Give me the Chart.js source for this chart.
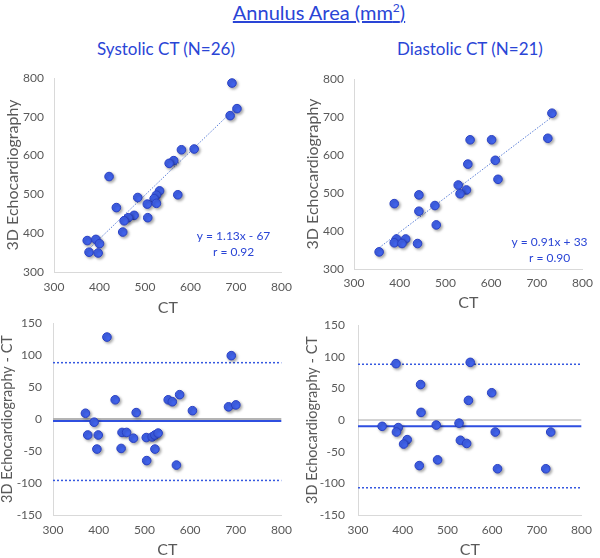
<!DOCTYPE html>
<html lang="en">
<head>
  <meta charset="UTF-8">
  <title>Annulus Area</title>
  <script src="https://cdn.jsdelivr.net/npm/chart.js"></script>
  <style>
    body { margin: 0; background: #fff; font-family: Lato, "Open Sans", sans-serif; }
    #wrap { position: relative; width: 600px; height: 558px; overflow: hidden; }
    .panel { position: absolute; width: 300px; }
    .txt { position: absolute; color: #2a45d6; white-space: nowrap; transform: translateX(-50%); }
    #title { left: 319px; top: 0px; font-size: 20px; text-decoration: underline; }
    #title sup { font-size: 12px; }
    .sub { top: 38px; font-size: 17px; }
  </style>
</head>
<body>
<div id="wrap">
  <div id="title" class="txt">Annulus Area (mm<sup>2</sup>)</div>
  <div class="txt sub" style="left:166px">Systolic CT (N=26)</div>
  <div class="txt sub" style="left:470px">Diastolic CT (N=21)</div>
  <div class="panel" style="left:0;top:60px;height:260px"><canvas id="sysScatter"></canvas></div>
  <div class="panel" style="left:300px;top:60px;height:260px"><canvas id="diaScatter"></canvas></div>
  <div class="panel" style="left:0;top:300px;height:258px"><canvas id="sysBA"></canvas></div>
  <div class="panel" style="left:300px;top:300px;height:258px"><canvas id="diaBA"></canvas></div>
</div>

<script>
  // systolic: CT vs 3D echo
  const sysCT   = [691, 702, 687, 608, 580, 563, 553, 421, 532, 525, 572, 520, 484, 505, 525, 437, 476, 463, 454, 506, 451, 373, 392, 400, 377, 397];
  const sysEcho = [787, 721, 703, 617, 615, 587, 580, 546, 509, 498, 499, 489, 492, 475, 477, 466, 446, 440, 432, 440, 403, 381, 384, 373, 351, 349];
  const sysFit  = [[373, 355], [702, 726]];

  // diastolic: CT vs 3D echo
  const diaCT   = [733, 724, 554, 601, 609, 549, 615, 528, 546, 532, 442, 388, 477, 442, 480, 393, 413, 388, 405, 439, 355];
  const diaEcho = [710, 644, 640, 640, 586, 576, 536, 521, 508, 498, 495, 472, 467, 452, 416, 379, 379, 369, 367, 367, 345];
  const diaFit  = [[355, 356], [733, 700]];

  // Bland-Altman (difference vs CT)
  const sysBaX    = [418, 690, 371, 436, 482, 390, 376, 399, 396, 449, 451, 461, 476, 504, 517, 523, 530, 523, 505, 570, 552, 561, 577, 605, 684, 700];
  const sysBaDiff = [128, 99, 9, 30, 10, -5, -25, -25, -47, -46, -21, -21, -30, -29, -28, -25, -22, -47, -65, -72, 30, 27, 38, 13, 19, 22];
  const sysLimits = { mean: -3.2, upper: 88, lower: -96 };

  const diaBaX    = [385, 551, 440, 599, 547, 441, 354, 390, 386, 475, 526, 410, 402, 529, 543, 607, 731, 437, 478, 612, 720];
  const diaBaDiff = [89, 91, 56, 43, 31, 12, -10, -12, -19, -8, -5, -31, -38, -32, -37, -19, -19, -72, -63, -77, -77];
  const diaLimits = { mean: -10, upper: 88, lower: -107 };

  const xTicks = [300, 400, 500, 600, 700, 800];

  const FONT = 'Lato, "Open Sans", sans-serif';
  const GRAY = '#595959';
  const BLUE = '#2a45d6';

  const toPts = (xs, ys) => xs.map((x, i) => ({ x: x, y: ys[i] }));

  const shadow = {
    id: 'shadow',
    beforeDatasetDraw(chart, args) {
      if (args.meta.type !== 'scatter') return;
      const ctx = chart.ctx;
      ctx.save();
      ctx.shadowColor = 'rgba(0,0,0,0.35)';
      ctx.shadowBlur = 3;
      ctx.shadowOffsetX = 1.5;
      ctx.shadowOffsetY = 1.5;
    },
    afterDatasetDraw(chart, args) {
      if (args.meta.type !== 'scatter') return;
      chart.ctx.restore();
    }
  };

  const eqText = {
    id: 'eqText',
    afterDraw(chart, args, opts) {
      if (!opts.lines) return;
      const ctx = chart.ctx, a = chart.chartArea;
      ctx.save();
      ctx.fillStyle = BLUE;
      ctx.font = '12px ' + FONT;
      ctx.textAlign = 'center';
      ctx.textBaseline = 'middle';
      opts.lines.forEach((t, i) => {
        ctx.fillText(t, a.right - opts.dx, a.bottom - opts.dy + i * 16);
      });
      ctx.restore();
    }
  };

  function pointSet(data) {
    return {
      type: 'scatter',
      data: data,
      backgroundColor: '#4163ec',
      borderColor: '#2940c4',
      borderWidth: 1,
      pointRadius: 4.3
    };
  }

  function lineSet(data, color, width, dash) {
    return {
      type: 'line',
      data: data,
      borderColor: color,
      borderWidth: width,
      borderDash: dash,
      pointRadius: 0,
      fill: false
    };
  }

  function makeChart(id, datasets, cfg) {
    new Chart(document.getElementById(id), {
      data: { datasets: datasets },
      plugins: [shadow, eqText],
      options: {
        responsive: true,
        maintainAspectRatio: false,
        animation: false,
        layout: { padding: { left: 0, top: cfg.padTop, right: cfg.padRight, bottom: 0 } },
        plugins: {
          legend: { display: false },
          tooltip: { enabled: false },
          eqText: cfg.eq || {}
        },
        scales: {
          x: {
            type: 'linear',
            min: 300, max: 800,
            afterBuildTicks: s => { s.ticks = xTicks.map(v => ({ value: v })); },
            afterFit: s => { s.height = cfg.xHeight; },
            grid: { display: false, drawTicks: false },
            border: { color: '#d9d9d9', width: 1 },
            ticks: { color: GRAY, font: { family: FONT, size: 12 }, padding: cfg.xTickPad, maxRotation: 0 },
            title: { display: true, text: 'CT', color: GRAY, font: { family: FONT, size: 16, lineHeight: 1 }, padding: { top: 0, bottom: cfg.xTitlePad } }
          },
          y: {
            type: 'linear',
            min: cfg.yMin, max: cfg.yMax,
            ticks: { stepSize: cfg.yStep, color: GRAY, font: { family: FONT, size: 12 }, padding: cfg.yTickPad },
            afterFit: s => { s.width = cfg.yWidth; },
            grid: { display: false, drawTicks: false },
            border: { color: '#d9d9d9', width: 1 },
            title: { display: true, text: cfg.yTitle, color: GRAY, font: { family: FONT, size: cfg.yTitleSize, lineHeight: 1 }, padding: { top: cfg.yTitlePad, bottom: 0 } }
          }
        }
      }
    });
  }

  const fitPts = f => f.map(p => ({ x: p[0], y: p[1] }));
  const hLine = v => [{ x: 300, y: v }, { x: 800, y: v }];

  makeChart('sysScatter', [
    pointSet(toPts(sysCT, sysEcho)),
    lineSet(fitPts(sysFit), '#5b7fd6', 1, [1.5, 1.5])
  ], {
    padTop: 18, padRight: 10, xHeight: 48, xTickPad: 8, xTitlePad: 4,
    yMin: 300, yMax: 800, yStep: 100, yWidth: 54, yTickPad: 10, yTitlePad: 5, yTitleSize: 16,
    yTitle: '3D Echocardiography',
    eq: { lines: ['y = 1.13x - 67', 'r = 0.92'], dx: 48, dy: 36 }
  });

  makeChart('diaScatter', [
    pointSet(toPts(diaCT, diaEcho)),
    lineSet(fitPts(diaFit), '#5b7fd6', 1, [1.5, 1.5])
  ], {
    padTop: 19, padRight: 13, xHeight: 51, xTickPad: 7, xTitlePad: 9,
    yMin: 300, yMax: 800, yStep: 100, yWidth: 54, yTickPad: 10, yTitlePad: 5, yTitleSize: 16,
    yTitle: '3D Echocardiography',
    eq: { lines: ['y = 0.91x + 33', 'r = 0.90'], dx: 33, dy: 27 }
  });

  makeChart('sysBA', [
    pointSet(toPts(sysBaX, sysBaDiff)),
    lineSet(hLine(sysLimits.mean), '#2f4fe0', 2, []),
    lineSet(hLine(0), '#b4b4b4', 2, []),
    lineSet(hLine(sysLimits.upper), '#3558e0', 1.5, [2, 2]),
    lineSet(hLine(sysLimits.lower), '#3558e0', 1.5, [2, 2])
  ], {
    padTop: 23, padRight: 17, xHeight: 43, xTickPad: 8, xTitlePad: 0,
    yMin: -150, yMax: 150, yStep: 50, yWidth: 53, yTickPad: 11, yTitlePad: 0, yTitleSize: 14.5,
    yTitle: '3D Echocardiography - CT'
  });

  makeChart('diaBA', [
    pointSet(toPts(diaBaX, diaBaDiff)),
    lineSet(hLine(diaLimits.mean), '#2f4fe0', 2, []),
    lineSet(hLine(0), '#a6a6a6', 1, []),
    lineSet(hLine(diaLimits.upper), '#3558e0', 1.5, [2, 2]),
    lineSet(hLine(diaLimits.lower), '#3558e0', 1.5, [2, 2])
  ], {
    padTop: 25, padRight: 13, xHeight: 43, xTickPad: 8, xTitlePad: 0,
    yMin: -150, yMax: 150, yStep: 50, yWidth: 58, yTickPad: 13, yTitlePad: 5.5, yTitleSize: 14.5,
    yTitle: '3D Echocardiography - CT'
  });
</script>
</body>
</html>
